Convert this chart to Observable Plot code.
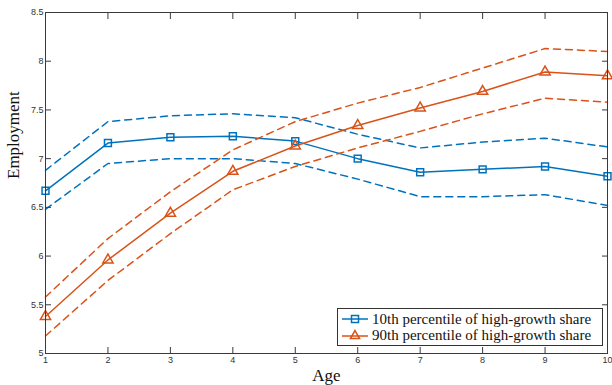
<!DOCTYPE html>
<html>
<head>
<meta charset="utf-8">
<script src="https://cdn.jsdelivr.net/npm/d3@7"></script>
<script src="https://cdn.jsdelivr.net/npm/@observablehq/plot@0.6"></script>
<style>
  html, body { margin: 0; padding: 0; background: #fff; }
  #wrap { position: relative; width: 612px; height: 385px; overflow: hidden; }
  #legend {
    position: absolute; left: 337px; top: 308px; width: 266px; height: 38px;
    box-sizing: border-box; border: 1px solid #333; background: #fff;
    font-family: "Liberation Serif", serif; font-size: 15px; color: #111;
  }
  .row { position: absolute; left: 4px; height: 16px; display: flex; align-items: center; white-space: nowrap; }
  .row svg { display: block; margin-right: 4px; }
</style>
</head>
<body>
<div id="wrap"><div id="legend"></div></div>
<script>
const ages = [1, 2, 3, 4, 5, 6, 7, 8, 9, 10];
const p10 = [6.67, 7.16, 7.22, 7.23, 7.18, 7.00, 6.86, 6.89, 6.92, 6.82];
const p10Hi = [6.88, 7.38, 7.44, 7.46, 7.42, 7.25, 7.11, 7.17, 7.21, 7.12];
const p10Lo = [6.48, 6.95, 7.00, 7.00, 6.95, 6.79, 6.61, 6.61, 6.63, 6.52];
const p90 = [5.38, 5.96, 6.44, 6.87, 7.13, 7.34, 7.52, 7.69, 7.89, 7.85];
const p90Hi = [5.58, 6.18, 6.66, 7.09, 7.38, 7.57, 7.73, 7.93, 8.13, 8.10];
const p90Lo = [5.18, 5.75, 6.23, 6.68, 6.92, 7.11, 7.28, 7.46, 7.62, 7.58];
const xTicks = [1, 2, 3, 4, 5, 6, 7, 8, 9, 10];
const yTicks = [5, 5.5, 6, 6.5, 7, 7.5, 8, 8.5];
const yTickLabels = ["5", "5.5", "6", "6.5", "7", "7.5", "8", "8.5"];
const seriesNames = ["10th percentile of high-growth share", "90th percentile of high-growth share"];
const blue = "#0072BD", orange = "#D95319";

const series = [
  {key: "p10", vals: p10, color: blue, dash: null},
  {key: "p10Hi", vals: p10Hi, color: blue, dash: "7,5"},
  {key: "p10Lo", vals: p10Lo, color: blue, dash: "7,5"},
  {key: "p90", vals: p90, color: orange, dash: null},
  {key: "p90Hi", vals: p90Hi, color: orange, dash: "7,5"},
  {key: "p90Lo", vals: p90Lo, color: orange, dash: "7,5"}
];
const rows = series.flatMap(s => ages.map((a, i) => ({age: a, value: s.vals[i], key: s.key})));
const pts10 = ages.map((a, i) => ({age: a, value: p10[i]}));
const pts90 = ages.map((a, i) => ({age: a, value: p90[i]}));

const axisColor = "#3a3a3a";
const tickFamily = "Liberation Sans, Arial, sans-serif";

const marks = [];
for (const s of series) {
  marks.push(Plot.line(rows.filter(r => r.key === s.key), {
    x: "age", y: "value", stroke: s.color, strokeWidth: 1.5,
    strokeDasharray: s.dash || undefined
  }));
}
marks.push(
  Plot.dot(pts10, {x: "age", y: "value", symbol: "square", r: 3.9, stroke: blue, strokeWidth: 1.5, fill: "none"}),
  Plot.dot(pts90, {x: "age", y: "value", symbol: "triangle", r: 3.8, stroke: orange, strokeWidth: 1.5, fill: "none"}),
  Plot.frame({stroke: axisColor, strokeWidth: 1}),
  Plot.axisX({anchor: "bottom", ticks: xTicks, tickSize: -6, tickPadding: 9, tickFormat: d => String(d),
    stroke: axisColor, fill: "#333", fontFamily: tickFamily, fontSize: 9, label: null}),
  Plot.axisX({anchor: "top", ticks: xTicks, tickSize: -6, stroke: axisColor, fill: "none", label: null}),
  Plot.axisY({anchor: "left", ticks: yTicks, tickSize: -6, tickPadding: 8, tickFormat: d => yTickLabels[yTicks.indexOf(d)],
    stroke: axisColor, fill: "#333", fontFamily: tickFamily, fontSize: 9, label: null}),
  Plot.axisY({anchor: "right", ticks: yTicks, tickSize: -6, stroke: axisColor, fill: "none", label: null}),
  Plot.text(["Age"], {frameAnchor: "bottom", dy: 22, lineAnchor: "middle", text: d => d,
    fontFamily: "Liberation Serif, serif", fontSize: 17, fill: "#111"}),
  Plot.text(["Employment"], {frameAnchor: "left", dx: -32, dy: -4, rotate: -90, text: d => d,
    fontFamily: "Liberation Serif, serif", fontSize: 17, fill: "#111"})
);

const chart = Plot.plot({
  width: 612, height: 385,
  marginLeft: 45, marginRight: 5, marginTop: 12, marginBottom: 32,
  x: {domain: [1, 10]},
  y: {domain: [5, 8.5]},
  style: {background: "#fff", overflow: "visible"},
  marks
});
chart.style.position = "absolute";
chart.style.left = "0px";
chart.style.top = "0px";
const wrap = document.getElementById("wrap");
wrap.insertBefore(chart, wrap.firstChild);

// legend
const legend = document.getElementById("legend");
const sym = [
  `<rect x="9.5" y="4.5" width="7" height="7" fill="none" stroke="${blue}" stroke-width="1.5"/>`,
  `<path d="M13,2.6 L17.6,10.6 L8.4,10.6 Z" fill="none" stroke="${orange}" stroke-width="1.5"/>`
];
[blue, orange].forEach((c, i) => {
  const row = document.createElement("div");
  row.className = "row";
  row.style.top = (i === 0 ? 2 : 18.5) + "px";
  row.innerHTML = `<svg width="26" height="16"><line x1="0" y1="8" x2="26" y2="8" stroke="${c}" stroke-width="1.5"/>${sym[i]}</svg><span>${seriesNames[i]}</span>`;
  legend.appendChild(row);
});
</script>
</body>
</html>
